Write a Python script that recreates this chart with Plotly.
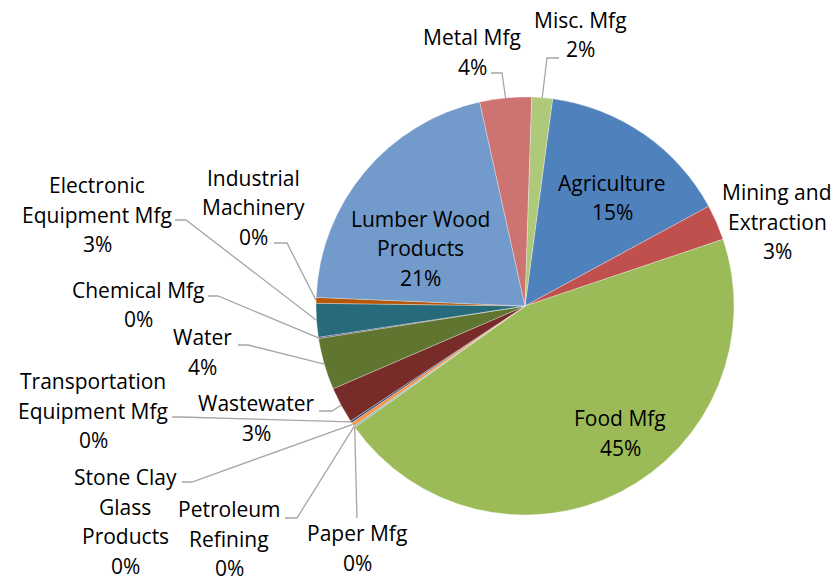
import math
import plotly.graph_objects as go

W, H = 839, 583

# ---- data (clockwise order, first slice = Agriculture) ----
categories = ["Agriculture", "Mining and Extraction", "Food Mfg", "Paper Mfg",
              "Petroleum Refining", "Stone Clay Glass Products",
              "Transportation Equipment Mfg", "Wastewater", "Water",
              "Chemical Mfg", "Electronic Equipment Mfg", "Industrial Machinery",
              "Lumber Wood Products", "Metal Mfg", "Misc. Mfg"]
values = [15.0, 2.75, 45.4, 0.02, 0.1, 0.3, 0.15, 2.8, 4.0, 0.1, 2.6, 0.45, 20.9, 4.0, 1.6]
label_lines = [["Agriculture"], ["Mining and", "Extraction"], ["Food Mfg"], ["Paper Mfg"],
               ["Petroleum", "Refining"], ["Stone Clay", "Glass", "Products"],
               ["Transportation", "Equipment Mfg"], ["Wastewater"], ["Water"],
               ["Chemical Mfg"], ["Electronic", "Equipment Mfg"], ["Industrial", "Machinery"],
               ["Lumber Wood", "Products"], ["Metal Mfg"], ["Misc. Mfg"]]
colors = ["#4F81BD", "#C0504D", "#9BBB59", "#8064A2", "#4BACC6", "#F79646", "#2C4D75",
          "#772C2A", "#5F7530", "#4D3B62", "#276A7C", "#B65708", "#729ACA", "#CD7371", "#AFC97A"]

# ---- layout (pixels) ----
CX, CY, R = 525, 306, 209
ROT = 7.6
LINE_H = 29.5
# label block: center x, first line y
label_pos = [(612, 183), (777, 192), (620, 418), (357, 533), (229, 509), (125, 477),
             (93, 381), (256, 403), (202, 337), (138, 290), (97, 185), (253, 178),
             (420, 219), (472, 37), (580, 20)]
# leader: label-end point, elbow point (None = no leader)
leaders = [None, None, None, [(357, 518), (357, 518)], [(285, 518), (297, 518)],
           [(182, 482), (192, 482)], [(172, 417), (180, 417)], [(319, 411), (332, 411)],
           [(238, 345), (248, 345)], [(208, 296), (218, 296)], [(175, 220), (186, 220)],
           [(274, 243), (287, 243)], None, [(491, 73), (502, 73)], [(559, 58), (547, 58)]]

def px(x, y):
    return x / W, 1 - y / H

total = sum(values)

fig = go.Figure(go.Pie(
    labels=categories, values=values, sort=False, direction="clockwise",
    rotation=ROT, textinfo="none", hoverinfo="label+percent",
    marker=dict(colors=colors, line=dict(color="rgba(255,255,255,0.6)", width=0.5)),
    domain=dict(x=[(CX - R) / W, (CX + R) / W], y=[1 - (CY + R) / H, 1 - (CY - R) / H]),
    showlegend=False,
))

font = dict(family="'Open Sans', Lato, sans-serif", size=21, color="#000000")
annotations = []
shapes = []
cum = 0.0
for i, v in enumerate(values):
    pct = f"{round(v / total * 100)}%"
    lines = label_lines[i] + [pct]
    lx, ly = label_pos[i]
    for k, t in enumerate(lines):
        fx, fy = px(lx, ly + k * LINE_H)
        annotations.append(dict(x=fx, y=fy, xref="paper", yref="paper", text=t,
                                showarrow=False, xanchor="center", yanchor="middle", font=font))
    mid = math.radians(ROT + 360 * (cum + v / 2) / total)
    ax, ay = CX + R * math.sin(mid), CY - R * math.cos(mid)
    if leaders[i] is not None:
        (x0, y0), (x1, y1) = leaders[i]
        p = [px(x0, y0), px(x1, y1), px(ax, ay)]
        path = "M {} {} L {} {} L {} {}".format(p[0][0], p[0][1], p[1][0], p[1][1], p[2][0], p[2][1])
        shapes.append(dict(type="path", xref="paper", yref="paper", path=path,
                           line=dict(color="#A6A6A6", width=1.3)))
    cum += v

fig.update_layout(width=W, height=H, margin=dict(l=0, r=0, t=0, b=0),
                  paper_bgcolor="white", plot_bgcolor="white",
                  annotations=annotations, shapes=shapes)

fig.write_html("out.html", config={"displayModeBar": False},
               post_script="document.body.style.margin='0';")
